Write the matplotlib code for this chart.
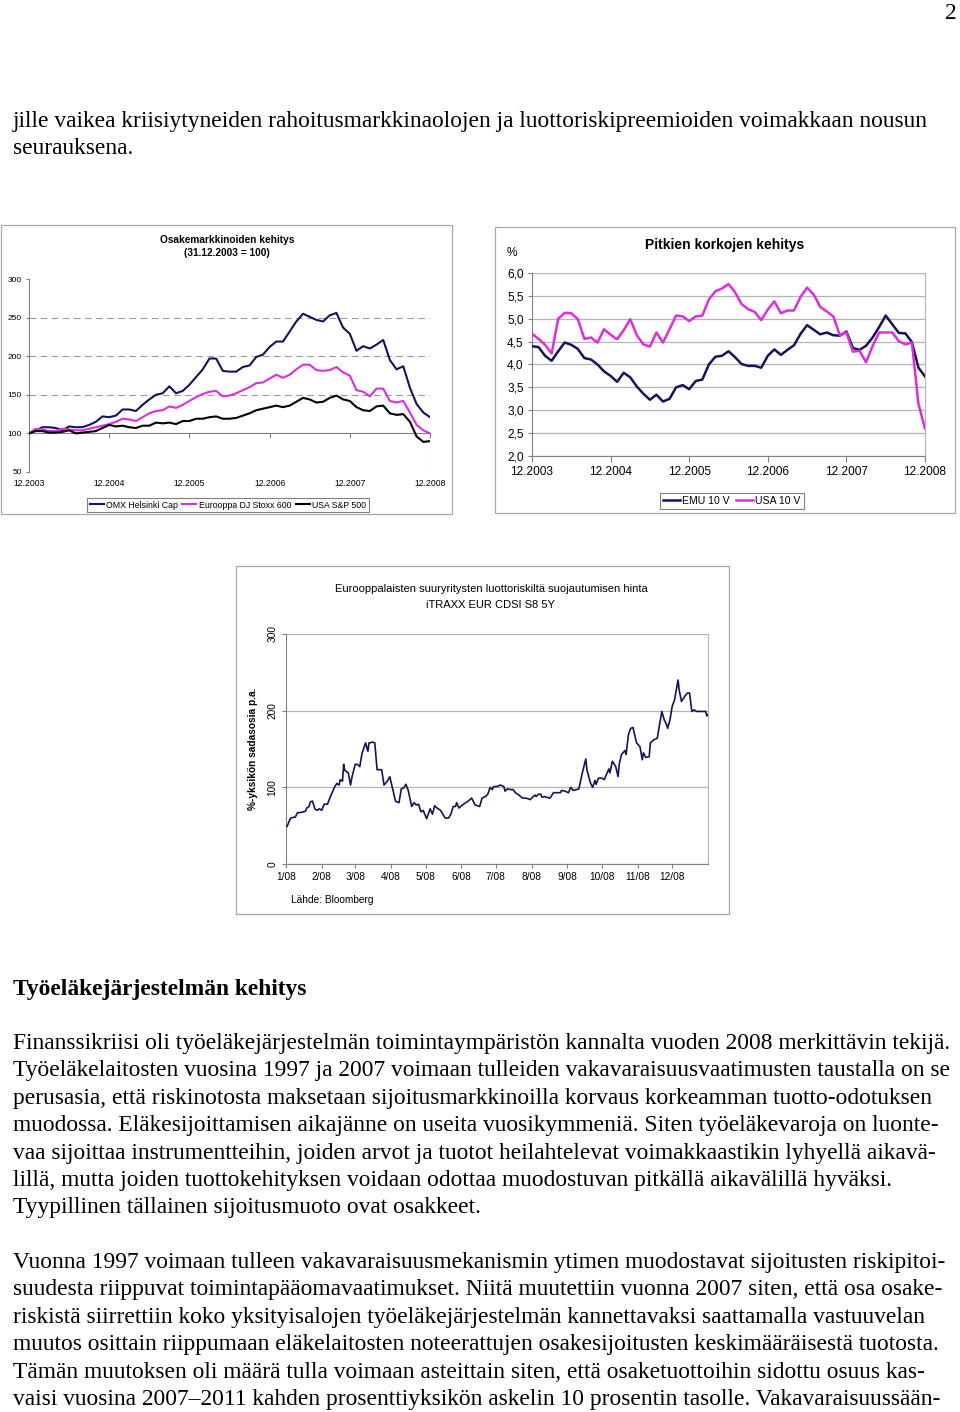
import numpy as np
import matplotlib
matplotlib.use("Agg")
import matplotlib.pyplot as plt
from matplotlib.patches import Rectangle
from matplotlib.lines import Line2D

W, H = 960, 1412

# --- Osakemarkkinoiden kehitys (31.12.2003 = 100), monthly 12.2003 - 12.2008
stock_dates = ['12.2003', '12.2004', '12.2005', '12.2006', '12.2007', '12.2008']
omx_helsinki = [100, 104, 108, 108, 107, 104, 109, 108, 108, 111, 115, 122,
                121, 123, 131, 131, 129, 137, 144, 150, 152, 161, 152, 155,
                163, 173, 183, 197, 197, 181, 180, 180, 186, 188, 199, 202,
                212, 219, 219, 232, 245, 255, 251, 247, 245, 253, 256, 237,
                229, 207, 213, 210, 215, 221, 195, 183, 187, 159, 138, 127, 121]
stoxx_600 = [100, 106, 105, 103, 103, 106, 105, 104, 104, 106, 108, 110,
             112, 115, 119, 118, 116, 121, 126, 129, 130, 135, 133, 137,
             142, 147, 151, 154, 155, 148, 149, 152, 156, 160, 165, 166,
             171, 176, 172, 176, 183, 189, 189, 182, 181, 182, 186, 179,
             175, 156, 154, 148, 158, 158, 142, 140, 142, 127, 111, 104, 100]
sp_500 = [100, 103, 103, 101, 101, 102, 104, 100, 101, 102, 103, 107,
          111, 109, 110, 108, 107, 110, 110, 114, 113, 114, 112, 116,
          116, 119, 119, 121, 122, 119, 119, 120, 123, 126, 130, 132,
          134, 136, 134, 136, 141, 146, 144, 140, 141, 146, 149, 144,
          142, 134, 130, 129, 135, 136, 126, 124, 125, 115, 96, 89, 90]

# --- Pitkien korkojen kehitys (%), monthly 12.2003 - 12.2008
rate_dates = stock_dates
emu_10y = [4.40, 4.38, 4.19, 4.08, 4.29, 4.48, 4.43, 4.34, 4.14, 4.11, 4.00, 3.85,
           3.75, 3.62, 3.82, 3.72, 3.52, 3.36, 3.23, 3.34, 3.19, 3.25, 3.50, 3.55,
           3.46, 3.64, 3.67, 4.00, 4.17, 4.19, 4.29, 4.16, 4.01, 3.97, 3.97, 3.93,
           4.19, 4.33, 4.21, 4.32, 4.42, 4.67, 4.86, 4.76, 4.66, 4.70, 4.64, 4.63,
           4.72, 4.36, 4.32, 4.41, 4.59, 4.82, 5.07, 4.88, 4.69, 4.68, 4.49, 3.93, 3.74]
usa_10y = [4.67, 4.56, 4.43, 4.24, 5.00, 5.13, 5.12, 4.99, 4.56, 4.59, 4.48, 4.77,
           4.65, 4.55, 4.75, 4.99, 4.64, 4.44, 4.39, 4.70, 4.48, 4.77, 5.07, 5.05,
           4.95, 5.05, 5.07, 5.42, 5.60, 5.66, 5.76, 5.58, 5.32, 5.21, 5.15, 4.97,
           5.20, 5.38, 5.12, 5.18, 5.18, 5.48, 5.68, 5.53, 5.26, 5.16, 5.05, 4.64,
           4.70, 4.28, 4.30, 4.05, 4.40, 4.70, 4.70, 4.70, 4.51, 4.44, 4.48, 3.14, 2.60]

# --- iTRAXX EUR CDSI S8 5Y, 2008 (day of year, %-yksikön sadasosia p.a.)
itraxx_day = [1, 2, 4, 7, 8, 10, 12, 15, 17, 18, 20, 21, 23, 25, 27, 29, 31, 33, 36, 38,
              40, 42, 44, 46, 47, 49, 50, 51, 54, 56, 57, 60, 62, 64, 66, 67, 69, 71, 72, 73,
              75, 77, 79, 83, 85, 88, 90, 93, 95, 98, 100, 102, 104, 106, 109, 111, 113, 115,
              117, 119, 122, 125, 127, 129, 131, 134, 138, 141, 143, 145, 147, 148, 150, 153,
              156, 158, 161, 164, 168, 170, 173, 175, 177, 179, 180, 183, 186, 189, 190, 192,
              195, 197, 199, 202, 205, 208, 210, 212, 213, 216, 217, 219, 221, 222, 224, 226,
              229, 232, 235, 238, 239, 242, 245, 247, 249, 252, 254, 257, 260, 261, 264, 266,
              268, 269, 271, 274, 276, 278, 280, 281, 283, 286, 288, 289, 291, 294, 295, 297,
              299, 301, 302, 304, 307, 309, 310, 312, 315, 316, 319, 322, 324, 326, 328, 330,
              331, 333, 335, 337, 340, 341, 343, 346, 348, 350, 352, 354, 356, 359, 362, 364,
              365, 366]
itraxx_bp = [49, 53, 60, 61, 61, 67, 67, 68, 69, 73, 75, 81, 82, 72, 70, 72, 70, 78, 78, 86,
             93, 100, 105, 103, 110, 108, 130, 122, 119, 103, 112, 130, 130, 127, 145, 149, 158, 147, 158, 158,
             159, 158, 123, 123, 103, 108, 114, 95, 82, 80, 98, 99, 104, 96, 75, 80, 77, 78,
             68, 70, 59, 72, 65, 76, 73, 70, 60, 60, 65, 75, 75, 80, 73, 77,
             80, 82, 86, 77, 75, 86, 88, 91, 100, 97, 101, 101, 103, 101, 95, 98,
             97, 97, 93, 90, 86, 86, 85, 84, 86, 90, 88, 91, 91, 87, 88, 87,
             86, 93, 93, 93, 96, 95, 93, 100, 96, 97, 98, 119, 137, 123, 106, 100,
             109, 104, 112, 112, 110, 117, 124, 119, 134, 127, 114, 130, 143, 148, 143, 169,
             177, 178, 171, 158, 153, 136, 145, 139, 140, 158, 162, 164, 182, 199, 188, 182,
             177, 188, 206, 214, 240, 227, 212, 219, 223, 223, 199, 201, 199, 199, 199, 199,
             193, 195]
month_labels = ['1/08', '2/08', '3/08', '4/08', '5/08', '6/08',
                '7/08', '8/08', '9/08', '10/08', '11/08', '12/08']
month_start_day = [0, 31, 60, 91, 121, 152, 182, 213, 244, 274, 305, 335]

# --- page text
top_lines = [
    "jille vaikea kriisiytyneiden rahoitusmarkkinaolojen ja luottoriskipreemioiden voimakkaan nousun",
    "seurauksena.",
]
heading = "Työeläkejärjestelmän kehitys"
para1 = [
    "Finanssikriisi oli työeläkejärjestelmän toimintaympäristön kannalta vuoden 2008 merkittävin tekijä.",
    "Työeläkelaitosten vuosina 1997 ja 2007 voimaan tulleiden vakavaraisuusvaatimusten taustalla on se",
    "perusasia, että riskinotosta maksetaan sijoitusmarkkinoilla korvaus korkeamman tuotto-odotuksen",
    "muodossa. Eläkesijoittamisen aikajänne on useita vuosikymmeniä. Siten työeläkevaroja on luonte-",
    "vaa sijoittaa instrumentteihin, joiden arvot ja tuotot heilahtelevat voimakkaastikin lyhyellä aikavä-",
    "lillä, mutta joiden tuottokehityksen voidaan odottaa muodostuvan pitkällä aikavälillä hyväksi.",
    "Tyypillinen tällainen sijoitusmuoto ovat osakkeet.",
]
para2 = [
    "Vuonna 1997 voimaan tulleen vakavaraisuusmekanismin ytimen muodostavat sijoitusten riskipitoi-",
    "suudesta riippuvat toimintapääomavaatimukset. Niitä muutettiin vuonna 2007 siten, että osa osake-",
    "riskistä siirrettiin koko yksityisalojen työeläkejärjestelmän kannettavaksi saattamalla vastuuvelan",
    "muutos osittain riippumaan eläkelaitosten noteerattujen osakesijoitusten keskimääräisestä tuotosta.",
    "Tämän muutoksen oli määrä tulla voimaan asteittain siten, että osaketuottoihin sidottu osuus kas-",
    "vaisi vuosina 2007–2011 kahden prosenttiyksikön askelin 10 prosentin tasolle. Vakavaraisuussään-",
]

NAVY = '#14145e'
MAGENTA = '#e02ce0'
GRID = '#b4b4b4'
AXIS = '#808080'
BOX = '#a8a8a8'

plt.rcParams['font.family'] = ['Liberation Sans', 'DejaVu Sans']

fig = plt.figure(figsize=(W / 100, H / 100), dpi=100)


def rect(left, top, right, bottom):
    return [left / W, 1 - bottom / H, (right - left) / W, (bottom - top) / H]


def fx(x):
    return x / W


def fy(y):
    return 1 - y / H


def box(x0, y0, x1, y1):
    fig.add_artist(Rectangle((fx(x0), fy(y1)), (x1 - x0) / W, (y1 - y0) / H,
                             transform=fig.transFigure, fill=False,
                             edgecolor=BOX, lw=0.9))


# ================= chart 1: stock markets =================
box(1, 225, 452, 514)
ax1 = fig.add_axes(rect(29, 279, 430, 472))
x1 = np.arange(len(omx_helsinki))
ax1.plot(x1, omx_helsinki, color=NAVY, lw=1.5, zorder=3)
ax1.plot(x1, stoxx_600, color=MAGENTA, lw=1.5, zorder=3)
ax1.plot(x1, sp_500, color='black', lw=1.5, zorder=3)
ax1.set_xlim(x1[0], x1[-1])
ax1.set_ylim(50, 300)
for v in (150, 200, 250):
    ax1.axhline(v, color='#9a9a9a', lw=0.8, ls=(0, (6, 4)), zorder=1)
ax1.spines[['top', 'right']].set_visible(False)
ax1.spines['bottom'].set_position(('data', 100))
ax1.spines['bottom'].set_color(AXIS)
ax1.spines['left'].set_color(AXIS)
ax1.vlines(x1[-1], 50, 100, color=AXIS, lw=0.8)
ax1.set_xticks(x1[::12])
ax1.tick_params(axis='x', direction='out', length=3.5, color=AXIS, labelbottom=False)
sec1 = ax1.secondary_xaxis('bottom')
sec1.set_xticks(x1[::12], stock_dates)
sec1.tick_params(length=0, labelsize=6.2, pad=5)
sec1.spines['bottom'].set_visible(False)
ax1.set_yticks(range(50, 301, 50))
ax1.tick_params(axis='y', labelsize=6.0, length=2, color=AXIS, pad=3)
fig.text(fx(227), fy(240), 'Osakemarkkinoiden kehitys', ha='center', va='center',
         fontsize=7.3, fontweight='bold')
fig.text(fx(227), fy(253), '(31.12.2003 = 100)', ha='center', va='center',
         fontsize=7.3, fontweight='bold')
h1 = [Line2D([], [], color=c, lw=1.5) for c in (NAVY, MAGENTA, 'black')]
leg1 = fig.legend(h1, ['OMX Helsinki Cap', 'Eurooppa DJ Stoxx 600', 'USA S&P 500'],
                  loc='center', bbox_to_anchor=(fx(228), fy(505)), ncol=3,
                  fontsize=6.3, frameon=True, fancybox=False, edgecolor=AXIS,
                  framealpha=1, handlelength=1.6, handletextpad=0.3,
                  columnspacing=0.5, borderpad=0.3)
leg1.get_frame().set_linewidth(0.8)

# ================= chart 2: long rates =================
box(495, 227, 955, 513)
ax2 = fig.add_axes(rect(532, 273, 925, 456))
x2 = np.arange(len(emu_10y))
ax2.plot(x2, emu_10y, color=NAVY, lw=1.8, zorder=3)
ax2.plot(x2, usa_10y, color=MAGENTA, lw=1.8, zorder=3)
ax2.set_xlim(x2[0], x2[-1])
ax2.set_ylim(2.0, 6.0)
yt2 = np.arange(2.0, 6.01, 0.5)
ax2.set_yticks(yt2, [f'{v:.1f}'.replace('.', ',') for v in yt2])
ax2.yaxis.grid(True, color=GRID, lw=0.9)
ax2.set_axisbelow(True)
ax2.spines['top'].set_visible(False)
ax2.spines['right'].set_color(GRID)
ax2.spines['left'].set_color(AXIS)
ax2.spines['bottom'].set_color(AXIS)
ax2.set_xticks(x2[::12], rate_dates)
ax2.tick_params(axis='x', length=4, color=AXIS, labelsize=8.6, pad=3)
ax2.tick_params(axis='y', length=3, color=AXIS, labelsize=8.6, pad=3)
fig.text(fx(725), fy(245), 'Pitkien korkojen kehitys', ha='center', va='center',
         fontsize=10, fontweight='bold')
fig.text(fx(512), fy(253), '%', ha='center', va='center', fontsize=8.6)
h2 = [Line2D([], [], color=c, lw=1.8) for c in (NAVY, MAGENTA)]
leg2 = fig.legend(h2, ['EMU 10 V', 'USA 10 V'], loc='center',
                  bbox_to_anchor=(fx(732), fy(501)), ncol=2, fontsize=7.6,
                  frameon=True, fancybox=False, edgecolor=AXIS, framealpha=1,
                  handlelength=1.6, handletextpad=0.2, columnspacing=0.6,
                  borderpad=0.3)
leg2.get_frame().set_linewidth(0.8)

# ================= chart 3: iTRAXX =================
box(236, 566, 729, 914)
ax3 = fig.add_axes(rect(286, 634, 708, 864))
ax3.plot(itraxx_day, itraxx_bp, color=NAVY, lw=1.2, zorder=3)
ax3.set_xlim(0, 366)
ax3.set_ylim(0, 300)
ax3.set_yticks([0, 100, 200, 300])
ax3.yaxis.grid(True, color=GRID, lw=0.9)
ax3.set_axisbelow(True)
ax3.spines['top'].set_visible(False)
ax3.spines['right'].set_color(GRID)
ax3.spines['left'].set_color(AXIS)
ax3.spines['bottom'].set_color(AXIS)
ax3.set_xticks(month_start_day, month_labels)
ax3.tick_params(axis='x', length=3, color=AXIS, labelsize=7.3, pad=3)
ax3.tick_params(axis='y', length=3, color=AXIS, labelsize=7.3, pad=3,
                labelrotation=90)
for lab in ax3.get_yticklabels():
    lab.set_va('center')
fig.text(fx(491), fy(589), 'Eurooppalaisten suuryritysten luottoriskiltä suojautumisen hinta',
         ha='center', va='center', fontsize=8)
fig.text(fx(491), fy(605), 'iTRAXX EUR CDSI S8 5Y', ha='center', va='center', fontsize=8)
fig.text(fx(253), fy(749), '%-yksikön sadasosia p.a.', rotation=90, ha='center',
         va='center', fontsize=7.3, fontweight='bold')
fig.text(fx(291), fy(900), 'Lähde: Bloomberg', ha='left', va='center', fontsize=7.3)

# ================= body text =================
SERIF = ['Liberation Serif', 'DejaVu Serif']
renderer = fig.canvas.get_renderer()
ratios = []
for s in para1[:-1] + para2:
    t = fig.text(0, 0, s, fontsize=10, family=SERIF)
    ratios.append(940 / t.get_window_extent(renderer).width)
    t.remove()
# widest line fills the text column (13 .. 953 px)
BODY = 10 * min(ratios)

fig.text(fx(957), fy(19), '2', ha='right', va='baseline', fontsize=BODY, family=SERIF)
for i, s in enumerate(top_lines):
    fig.text(fx(13), fy(127 + 27.4 * i), s, ha='left', va='baseline',
             fontsize=BODY, family=SERIF)
fig.text(fx(13), fy(995), heading, ha='left', va='baseline', fontsize=BODY,
         fontweight='bold', family=SERIF)
for i, s in enumerate(para1):
    fig.text(fx(13), fy(1049 + 27.4 * i), s, ha='left', va='baseline',
             fontsize=BODY, family=SERIF)
for i, s in enumerate(para2):
    fig.text(fx(13), fy(1268 + 27.4 * i), s, ha='left', va='baseline',
             fontsize=BODY, family=SERIF)

fig.savefig('out.png', dpi=100, facecolor='white')
